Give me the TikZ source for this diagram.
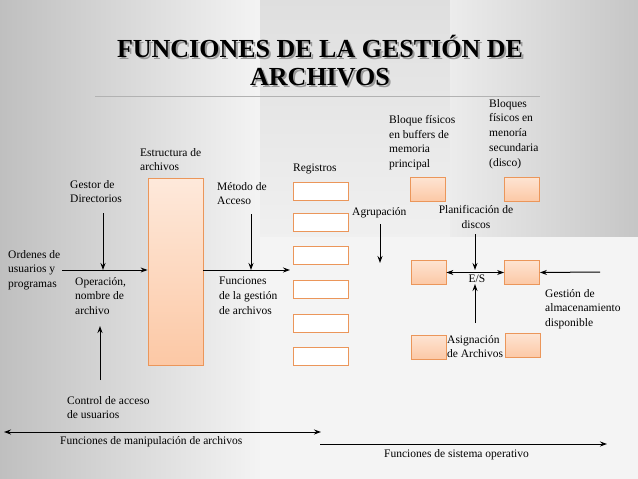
\documentclass[tikz,border=0pt]{standalone}
\usepackage{fontspec}
\setmainfont{Liberation Serif}
\usetikzlibrary{arrows.meta}
\definecolor{peach}{RGB}{252,200,165}
\definecolor{peachb}{RGB}{235,150,90}
\tikzset{
 txt/.style={font=\fontsize{11.5}{14.8}\selectfont, align=left, inner sep=0pt, anchor=north west},
 reg/.style={draw=peachb, fill=white, line width=1pt, minimum width=55pt, minimum height=18pt, inner sep=0pt},
 ob/.style={draw=peachb, top color=peach!50, bottom color=peach, line width=0.8pt, minimum width=35pt, minimum height=24pt, inner sep=0pt},
 ar/.style={-{Stealth[length=7pt,width=5pt]}, line width=1pt},
 dar/.style={{Stealth[length=7pt,width=5pt]}-{Stealth[length=7pt,width=5pt]}, line width=1pt}
}
\begin{document}
\begin{tikzpicture}[x=1pt,y=-1pt]
\useasboundingbox (0,0) rectangle (638,479);
\fill[gray!9] (0,0) rectangle (638,479);
\shade[left color=gray!50, right color=gray!9] (0,0) rectangle (260,479);
\shade[left color=gray!9, right color=gray!9, top color=gray!25, bottom color=gray!12] (260,0) rectangle (638,236);
\shade[left color=gray!15, right color=gray!45] (450,0) rectangle (638,236);
% title
\node[font=\fontsize{26}{28}\selectfont\bfseries, align=center, text=black!40, inner sep=0pt] at (322,63) {FUNCIONES DE LA GESTIÓN DE\\ARCHIVOS};
\node[font=\fontsize{26}{28}\selectfont\bfseries, align=center, inner sep=0pt] (title) at (320,61) {FUNCIONES DE LA GESTIÓN DE\\ARCHIVOS};
\draw[gray!60, line width=0.8pt] (95,96) -- (540,96);
% left
\node[draw=peachb, top color=peach!40, bottom color=peach, line width=0.8pt, minimum width=55pt, minimum height=187pt, inner sep=0pt] (est) at (175.5,271.5) {};
\foreach \i/\y in {1/191,2/222,3/255,4/289,5/323,6/356} \node[reg] (r\i) at (320.5,\y) {};
\node[txt] (ord) at (8,250) {Ordenes de\\usuarios y\\programas};
\node[txt] (op) at (75,277) {Operación,\\nombre de\\archivo};
\node[txt] (ges) at (70,180) {Gestor de\\Directorios};
\node[txt] (estt) at (140,148) {Estructura de\\archivos};
\node[txt] (met) at (217,182) {Método de\\Acceso};
\node[txt] (fun) at (219,277) {Funciones\\de la gestión\\de archivos};
\node[txt] (regt) at (293,164) {Registros};
\node[txt] (ctl) at (67,396) {Control de acceso\\de usuarios};
\coordinate (a0) at (62,270); \coordinate (g0) at (103,213); \coordinate (g1) at (103,270);
\coordinate (m0) at (251,214); \coordinate (m1) at (251,270); \coordinate (a1) at (290,270);
\coordinate (c0) at (100,380); \coordinate (c1) at (100,326);
\draw[ar] (a0) -- (est.west|-a0);
\draw[ar] (est.east|-a1) -- (a1);
\draw[ar] (g0) -- (g1);
\draw[ar] (m0) -- (m1);
\draw[ar] (c0) -- (c1);
% bottom
\coordinate (b0) at (4,432); \coordinate (b1) at (321,432);
\draw[dar] (b0) -- (b1);
\node[txt] (man) at (60,436) {Funciones de manipulación de archivos};
\coordinate (s0) at (320,444); \coordinate (s1) at (607,444);
\draw[ar] (s0) -- (s1);
\node[txt] (sis) at (384,449) {Funciones de sistema operativo};
% right
\node[ob] (bb) at (427.5,189.5) {};
\node[ob] (bd) at (522,189.5) {};
\node[ob] (ml) at (428.5,272.5) {};
\node[ob] (mr) at (522,272.5) {};
\node[ob] (dl) at (428.5,347.5) {};
\node[ob] (dr) at (523,345.5) {};
\node[txt] (bft) at (389,115) {Bloque físicos\\en buffers de\\memoria\\principal};
\node[txt] (bdt) at (489,99) {Bloques\\físicos en\\menoría\\secundaria\\(disco)};
\node[txt] (agr) at (352,207) {Agrupación};
\node[txt, align=center, anchor=north] (pla) at (476,205) {Planificación de\\discos};
\node[txt, anchor=north] (es) at (477,275) {E/S};
\node[txt] (gst) at (545,289) {Gestión de\\almacenamiento\\disponible};
\node[txt] (asg) at (447,335) {Asignación\\de Archivos};
\coordinate (ag0) at (380,224); \coordinate (ag1) at (380,263);
\draw[ar] (ag0) -- (ag1);
\coordinate (p0) at (475,234); \coordinate (p1) at (475,270);
\draw[ar] (p0) -- (p1);
\draw[dar] (ml.east) -- (mr.west);
\coordinate (q0) at (475,323); \coordinate (q1) at (475,284);
\draw[ar] (q0) -- (q1);
\coordinate (gs0) at (600,272);
\draw[ar] (gs0) -- (mr.east);
\end{tikzpicture}
\end{document}
